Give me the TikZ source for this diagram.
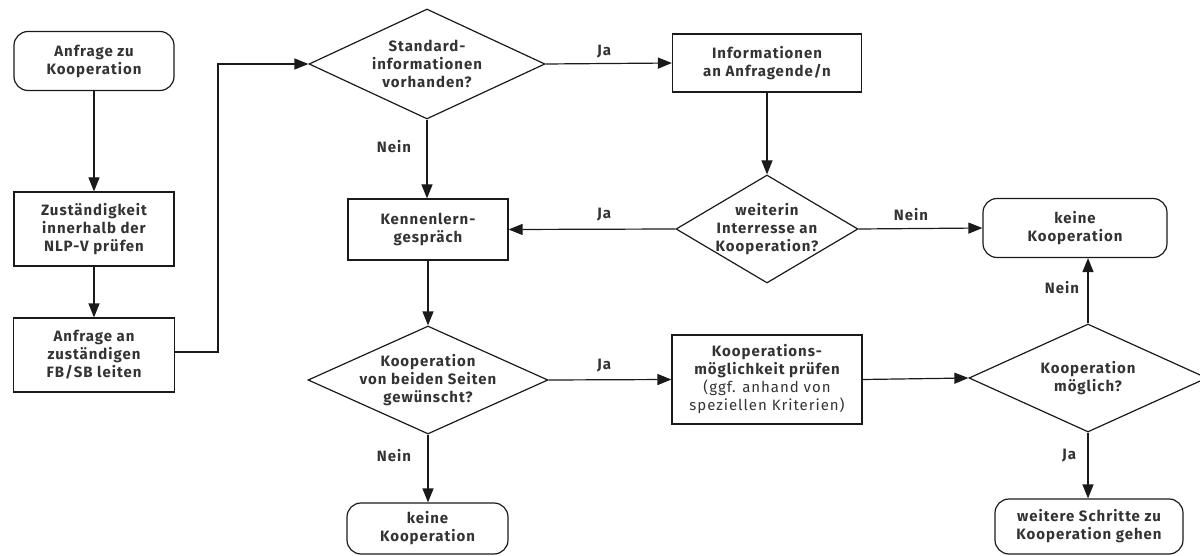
\documentclass[tikz,border=0pt]{standalone}
\usepackage{fontspec}
\setmainfont[LetterSpace=6.5]{Fira Sans}
\usetikzlibrary{shapes.geometric,arrows.meta}
\definecolor{txt}{HTML}{333333}
\definecolor{ln}{HTML}{1A1A1A}
\tikzset{
  base/.style={draw=ln, line width=1.2pt, inner sep=0pt, align=center, text=txt,
    font=\fontsize{15}{18}\selectfont\bfseries},
  box/.style={base, rectangle},
  rbox/.style={base, rectangle, rounded corners=14pt},
  dia/.style={base, diamond},
  arr/.style={draw=ln, line width=1.2pt, -{Triangle[length=14pt,width=11pt]}},
  lbl/.style={text=txt, font=\fontsize{15}{18}\selectfont\bfseries, inner sep=0pt},
}
\begin{document}
\begin{tikzpicture}[x=1pt,y=-1pt]
\useasboundingbox (0,0) rectangle (1200,556);
% nodes
\node[rbox, minimum width=160, minimum height=59] (start) at (94,61) {Anfrage zu\\Kooperation};
\node[box, minimum width=160, minimum height=74] (zust) at (94,229) {Zuständigkeit\\innerhalb der\\NLP-V prüfen};
\node[box, minimum width=161, minimum height=74] (anf) at (94,355) {Anfrage an\\zuständigen\\FB/SB leiten};
\node[dia, minimum width=236, minimum height=110, label={[lbl, align=center]center:Standard-\\informationen\\vorhanden?}] (d1) at (427,64) {};
\node[box, minimum width=189, minimum height=58] (info) at (767,63) {Informationen\\an Anfragende/n};
\node[dia, minimum width=182, minimum height=108, label={[lbl, align=center]center:weiterin\\Interresse an\\Kooperation?}] (d2) at (767,229) {};
\node[box, minimum width=160, minimum height=61] (kenn) at (428,229.5) {Kennenlern-\\gespräch};
\node[rbox, minimum width=184, minimum height=59] (keine1) at (1075,228) {keine\\Kooperation};
\node[dia, minimum width=240, minimum height=108, label={[lbl, align=center]center:Kooperation\\von beiden Seiten\\gewünscht?}] (d3) at (428,380) {};
\node[box, minimum width=190, minimum height=89] (koopm) at (767,379.5) {Kooperations-\\möglichkeit prüfen\\{\mdseries (ggf. anhand von}\\{\mdseries speziellen Kriterien)}};
\node[dia, minimum width=238, minimum height=108, label={[lbl, align=center]center:Kooperation\\möglich?}] (d4) at (1088,378) {};
\node[rbox, minimum width=161, minimum height=51] (keine2) at (427.5,528.5) {keine\\Kooperation};
\node[rbox, minimum width=188, minimum height=55] (weiter) at (1089,526.5) {weitere Schritte zu\\Kooperation gehen};
% connectors
\coordinate (bend) at (218,352);
\draw[arr] (start) -- (zust);
\draw[arr] (zust) -- (anf);
\draw[arr] ([yshift=3pt]anf.east) -- (bend) |- (d1.west);
\draw[arr] (d1.east) -- (info.west);
\draw[arr] (d1.south) -- (d1.south |- kenn.north);
\draw[arr] (info.south) -- (d2.north);
\draw[arr] (d2.west) -- (kenn.east);
\draw[arr] (d2.east) -- (keine1.west);
\draw[arr] (kenn.south) -- (d3.north);
\draw[arr] (d3.east) -- (koopm.west);
\draw[arr] (d3.south) -- (d3.south |- keine2.north);
\draw[arr] (koopm.east) -- (d4.west);
\draw[arr] (d4.north) -- (d4.north |- keine1.south);
\draw[arr] (d4.south) -- (d4.south |- weiter.north);
% labels
\node[lbl] (l1) at (604,52) {Ja};
\node[lbl] (l2) at (394,147) {Nein};
\node[lbl] (l3) at (604,215) {Ja};
\node[lbl] (l4) at (911,215) {Nein};
\node[lbl] (l5) at (604,366) {Ja};
\node[lbl] (l6) at (394,456) {Nein};
\node[lbl] (l7) at (1062,288) {Nein};
\node[lbl] (l8) at (1069,456) {Ja};
\end{tikzpicture}
\end{document}
